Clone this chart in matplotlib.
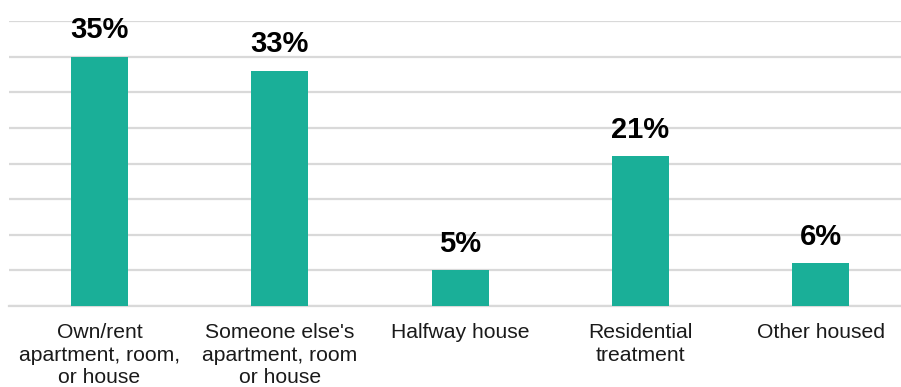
import matplotlib.pyplot as plt

# Housing situation shares
categories = ["Own/rent\napartment, room,\nor house",
              "Someone else's\napartment, room\nor house",
              "Halfway house",
              "Residential\ntreatment",
              "Other housed"]
values = [35, 33, 5, 21, 6]

plt.rcParams['font.family'] = ['Liberation Sans', 'DejaVu Sans']

W, H = 901, 387
fig = plt.figure(figsize=(W / 100, H / 100), dpi=100)
ax = fig.add_axes([9.4 / W, 81 / H, 901.25 / W, 285 / H])

x = range(len(categories))
bars = ax.bar(x, values, width=0.316, color='#1aaf98', zorder=3)

# value labels above each bar
for rect, v in zip(bars, values):
    ax.annotate(f"{v}%", (rect.get_x() + rect.get_width() / 2, v),
                xytext=(0, 9), textcoords='offset points',
                ha='center', va='bottom', fontsize=21, fontweight='bold',
                color='black', zorder=4)

ax.set_xlim(-0.5, 4.5)
ax.set_ylim(0, 40)
ax.set_yticks(range(0, 41, 5))
ax.yaxis.grid(True, color='#d9d9d9', linewidth=1.6, zorder=0)
ax.tick_params(axis='y', left=False, labelleft=False)
ax.tick_params(axis='x', bottom=False, pad=9)
ax.set_xticks(list(x))
ax.set_xticklabels(categories, fontsize=15.2, color='#1a1a1a', linespacing=1.22)
for s in ['top', 'right', 'left']:
    ax.spines[s].set_visible(False)
ax.spines['bottom'].set_color('#d9d9d9')
ax.spines['bottom'].set_linewidth(1.6)

fig.savefig('out.png', dpi=100)
